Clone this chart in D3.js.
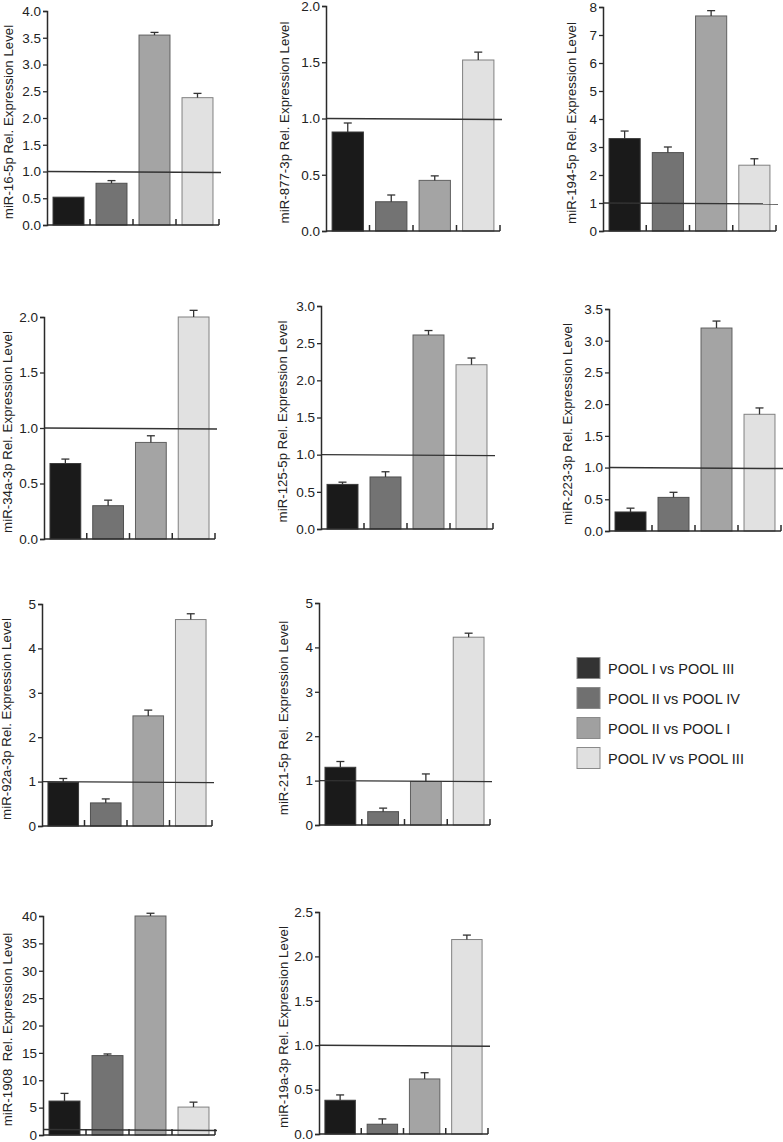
<!DOCTYPE html>
<html><head><meta charset="utf-8">
<script src="https://cdn.jsdelivr.net/npm/d3@7"></script>
<style>body{margin:0;background:#fff}svg{display:block}</style>
</head><body>
<svg id="c" width="783" height="1142"></svg>
<script>
// ---- data ----
const groups = ["POOL I vs POOL III","POOL II vs POOL IV","POOL II vs POOL I","POOL IV vs POOL III"];
const mirnas = ["miR-16-5p","miR-877-3p","miR-194-5p","miR-34a-3p","miR-125-5p","miR-223-3p","miR-92a-3p","miR-21-5p","miR-1908 ","miR-19a-3p"];
const v_16   = [0.52, 0.78, 3.55, 2.38];
const e_16   = [0.00, 0.05, 0.05, 0.08];
const v_877  = [0.88, 0.26, 0.45, 1.52];
const e_877  = [0.08, 0.06, 0.04, 0.07];
const v_194  = [3.30, 2.80, 7.68, 2.35];
const e_194  = [0.27, 0.20, 0.19, 0.23];
const v_34a  = [0.68, 0.30, 0.87, 2.00];
const e_34a  = [0.04, 0.05, 0.06, 0.06];
const v_125  = [0.60, 0.70, 2.61, 2.21];
const e_125  = [0.03, 0.07, 0.06, 0.09];
const v_223  = [0.30, 0.53, 3.20, 1.84];
const e_223  = [0.06, 0.08, 0.11, 0.10];
const v_92a  = [0.98, 0.52, 2.48, 4.65];
const e_92a  = [0.09, 0.09, 0.13, 0.13];
const v_21   = [1.30, 0.30, 0.98, 4.23];
const e_21   = [0.13, 0.08, 0.17, 0.09];
const v_1908 = [6.2, 14.5, 40.0, 5.1];
const e_1908 = [1.4, 0.3, 0.5, 0.9];
const v_19a  = [0.38, 0.11, 0.62, 2.19];
const e_19a  = [0.06, 0.06, 0.07, 0.05];
const values = [v_16,v_877,v_194,v_34a,v_125,v_223,v_92a,v_21,v_1908,v_19a];
const errors = [e_16,e_877,e_194,e_34a,e_125,e_223,e_92a,e_21,e_1908,e_19a];
const yMax  = [4, 2, 8, 2, 3, 3.5, 5, 5, 40, 2.5];
const yStep = [0.5, 0.5, 1, 0.5, 0.5, 0.5, 1, 1, 5, 0.5];
const yFmt  = [".1f",".1f","d",".1f",".1f",".1f","d","d","d",".1f"];
const refLevel = 1;

// ---- layout (pixels) ----
const layout = [
  {l:47, r:219, t:11,  b:225, lx:12.5},
  {l:326,r:500, t:6,   b:231, lx:289},
  {l:603,r:776, t:7,   b:231, lx:576},
  {l:44, r:215, t:317, b:539, lx:12},
  {l:321,r:493, t:306, b:529, lx:287},
  {l:609,r:781, t:309, b:531, lx:572},
  {l:42, r:212, t:604, b:826, lx:11},
  {l:319,r:490, t:603, b:825, lx:288},
  {l:43, r:215, t:916, b:1135,lx:12},
  {l:319,r:488, t:912, b:1134,lx:288}
];
const barFill = ["#1a1a1a","#737373","#a4a4a4","#e1e1e1"];
const barStroke = ["#3a3a3a","#505050","#606060","#808080"];
const legFill = ["#333333","#707070","#a0a0a0","#e0e0e0"];
const font = "Liberation Sans, Arial, sans-serif";
const axisColor = "#2a2a2a";

const svg = d3.select("#c");

mirnas.forEach((name, i) => {
  const L = layout[i];
  const g = svg.append("g");
  const x = d3.scaleBand().domain(groups).range([L.l, L.r]).paddingInner(0.28).paddingOuter(0.14);
  const y = d3.scaleLinear().domain([0, yMax[i]]).range([L.b, L.t]);
  const ticks = d3.range(0, yMax[i] + yStep[i]/2, yStep[i]);
  const data = groups.map((gname, k) => ({g: gname, k, v: values[i][k], e: errors[i][k]}));

  // bars
  g.selectAll("rect.bar").data(data).join("rect")
    .attr("x", d => x(d.g)).attr("width", x.bandwidth())
    .attr("y", d => y(d.v)).attr("height", d => y(0) - y(d.v))
    .attr("fill", d => barFill[d.k]).attr("stroke", d => barStroke[d.k]).attr("stroke-width", 1);

  // error bars (upper)
  const eb = g.selectAll("g.err").data(data.filter(d => d.e > 0)).join("g")
    .attr("stroke", "#333").attr("stroke-width", 1.3);
  eb.append("line")
    .attr("x1", d => x(d.g) + x.bandwidth()/2).attr("x2", d => x(d.g) + x.bandwidth()/2)
    .attr("y1", d => y(d.v)).attr("y2", d => y(d.v + d.e));
  eb.append("line")
    .attr("x1", d => x(d.g) + x.bandwidth()/2 - 4).attr("x2", d => x(d.g) + x.bandwidth()/2 + 4)
    .attr("y1", d => y(d.v + d.e)).attr("y2", d => y(d.v + d.e));

  // reference line at 1
  g.append("line")
    .attr("x1", L.l).attr("x2", L.r + 2)
    .attr("y1", y(refLevel)).attr("y2", y(refLevel) + 1)
    .attr("stroke", "#333").attr("stroke-width", 1.4);

  // y axis
  const ya = g.append("g").attr("transform", `translate(${L.l},0)`)
    .call(d3.axisLeft(y).tickValues(ticks).tickFormat(d3.format(yFmt[i])).tickSizeOuter(0).tickSize(4).tickPadding(2));
  ya.select(".domain").attr("stroke", axisColor).attr("stroke-width", 1.5);
  ya.selectAll(".tick line").attr("stroke", axisColor).attr("stroke-width", 1.3);
  ya.selectAll(".tick text").attr("font-family", font).attr("font-size", 13.5).attr("fill", "#222");

  // x axis baseline with up ticks at band boundaries
  g.append("line").attr("x1", L.l).attr("x2", L.r).attr("y1", y(0)).attr("y2", y(0))
    .attr("stroke", axisColor).attr("stroke-width", 1.5);
  g.selectAll("line.xt").data(groups).join("line")
    .attr("x1", d => x(d) - x.step()*0.14 + x.step()).attr("x2", d => x(d) - x.step()*0.14 + x.step())
    .attr("y1", y(0)).attr("y2", y(0) - 6)
    .attr("stroke", axisColor).attr("stroke-width", 1.5);

  // y label
  g.append("text")
    .attr("transform", `translate(${L.lx},${(L.t + L.b)/2 + 4}) rotate(-90)`)
    .attr("text-anchor", "middle").attr("font-family", font).attr("font-size", 13.3).attr("fill", "#222")
    .attr("xml:space", "preserve")
    .text(name + " Rel. Expression Level");
});

// legend
const leg = svg.append("g");
const ly = d3.scalePoint().domain(groups).range([668, 758]);
leg.selectAll("rect").data(groups).join("rect")
  .attr("x", 577).attr("y", d => ly(d) - 10.5).attr("width", 23).attr("height", 21)
  .attr("fill", (d, k) => legFill[k]).attr("stroke", "#8a8a8a").attr("stroke-width", 1);
leg.selectAll("text").data(groups).join("text")
  .attr("x", 608).attr("y", d => ly(d) + 5.5)
  .attr("font-family", font).attr("font-size", 14.5).attr("fill", "#222")
  .text(d => d);
</script>
</body></html>
